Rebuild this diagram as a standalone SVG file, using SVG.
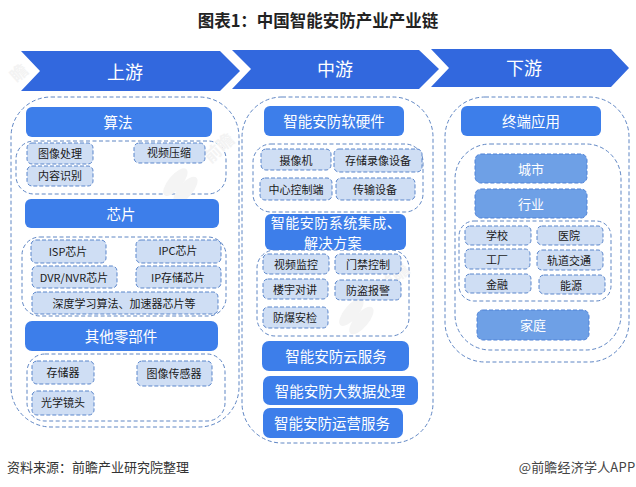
<svg xmlns="http://www.w3.org/2000/svg" width="636" height="487" viewBox="0 0 636 487">
<style>
text{font-family:"Noto Sans CJK SC","Liberation Sans",sans-serif;text-anchor:middle;dominant-baseline:central}
.c{fill:#fff;stroke:#5f86c4;stroke-width:1;stroke-dasharray:4 2.5}
.a{fill:#3268de}
.at{fill:#fff;font-size:18px}
.h rect{fill:#3d7eea}
.h text{fill:#fff;font-size:14.5px}
.s rect{fill:#cfdef4;stroke:#5b86cb;stroke-width:1;stroke-dasharray:4 2}
.s text{fill:#1a1a1a;font-size:11px}
.m rect{fill:#6ea0e6;stroke:#4f82d6;stroke-width:1;stroke-dasharray:4 2}
.m text{fill:#fff;font-size:13px}
.wm{fill:#f4f4f4}
.wt{fill:#f3f3f3;font-size:17px;font-weight:700}
</style>
<rect width="636" height="487" fill="#fff"/>
<text x="318" y="20" font-size="16.5" font-weight="700" fill="#222">图表1：中国智能安防产业产业链</text>
<g id="stage-up"><polygon class="a" points="21,51 220,51 240,71 220,91 21,91 40,71"/><text class="at" x="125" y="71">上游</text></g>
<g id="stage-mid"><polygon class="a" points="232,50 419,50 439,69 419,89 232,89 251,69"/><text class="at" x="335" y="68">中游</text></g>
<g id="stage-down"><polygon class="a" points="431,49 611,49 629,68 611,87 431,87 449,68"/><text class="at" x="524" y="67">下游</text></g>

<g id="containers">
<rect class="c" x="11" y="97" width="228" height="330" rx="40"/>
<rect class="c" x="242" y="97" width="191" height="346" rx="40"/>
<rect class="c" x="445" y="97" width="184" height="265" rx="40"/>
<rect class="c" x="16" y="141" width="210" height="53" rx="18"/>
<rect class="c" x="22" y="237" width="204" height="79" rx="18"/>
<rect class="c" x="27" y="354" width="198" height="67" rx="18"/>
<rect class="c" x="253" y="144" width="170" height="68" rx="18"/>
<rect class="c" x="257" y="250" width="152" height="86" rx="18"/>
<rect class="c" x="455" y="144" width="166" height="206" rx="35"/>
<rect class="c" x="459" y="221" width="152" height="80" rx="15"/>
</g>

<g id="watermarks">
<g transform="rotate(40 180 186)"><ellipse class="wm" cx="174" cy="186" rx="7" ry="17"/><ellipse class="wm" cx="187" cy="186" rx="7" ry="17"/></g>
<g transform="rotate(40 356 316)"><ellipse class="wm" cx="350" cy="316" rx="7" ry="17"/><ellipse class="wm" cx="363" cy="316" rx="7" ry="17"/></g>
<text class="wt" x="218" y="147" transform="rotate(-42 218 147)">前瞻</text>
<text class="wt" x="393" y="277" transform="rotate(-42 393 277)">前瞻</text>
<text class="wt" x="18" y="72" transform="rotate(-42 18 72)">瞻</text>
</g>

<g id="n-suanfa" class="h"><rect x="26" y="107" width="186" height="30" rx="6"/><text x="118" y="121">算法</text></g>
<g id="n-txcl" class="s"><rect x="27" y="143" width="66" height="21" rx="5"/><text x="60" y="153">图像处理</text></g>
<g id="n-spys" class="s"><rect x="134" y="143" width="71" height="20" rx="5"/><text x="169" y="152">视频压缩</text></g>
<g id="n-nrsb" class="s"><rect x="27" y="166" width="66" height="20" rx="5"/><text x="60" y="175">内容识别</text></g>
<g id="n-xinpian" class="h"><rect x="25" y="199" width="194" height="29" rx="6"/><text x="121" y="213">芯片</text></g>
<g id="n-isp" class="s"><rect x="31" y="240" width="75" height="23" rx="5"/><text x="68" y="251">ISP芯片</text></g>
<g id="n-ipc" class="s"><rect x="136" y="240" width="85" height="23" rx="5"/><text x="178" y="250">IPC芯片</text></g>
<g id="n-dvr" class="s"><rect x="32" y="266" width="85" height="22" rx="5"/><text x="74" y="277">DVR/NVR芯片</text></g>
<g id="n-ipcc" class="s"><rect x="136" y="266" width="85" height="22" rx="5"/><text x="178" y="277">IP存储芯片</text></g>
<g id="n-sdxx" class="s"><rect x="32" y="292" width="186" height="22" rx="5"/><text x="124" y="303">深度学习算法、加速器芯片等</text></g>
<g id="n-qita" class="h"><rect x="25" y="321" width="193" height="30" rx="7"/><text x="121" y="335">其他零部件</text></g>
<g id="n-ccq" class="s"><rect x="32" y="361" width="62" height="23" rx="5"/><text x="63" y="372">存储器</text></g>
<g id="n-txcgq" class="s"><rect x="137" y="361" width="75" height="25" rx="5"/><text x="174" y="373">图像传感器</text></g>
<g id="n-gxjt" class="s"><rect x="32" y="391" width="62" height="24" rx="5"/><text x="63" y="402">光学镜头</text></g>

<g id="n-rjyj" class="h"><rect x="264" y="106" width="140" height="30" rx="6"/><text x="334" y="120">智能安防软硬件</text></g>
<g id="n-sxj" class="s"><rect x="261" y="149" width="70" height="21" rx="5"/><text x="296" y="160">摄像机</text></g>
<g id="n-cclx" class="s"><rect x="334" y="149" width="88" height="23" rx="5"/><text x="378" y="160">存储录像设备</text></g>
<g id="n-zxkz" class="s"><rect x="260" y="178" width="72" height="22" rx="5"/><text x="296" y="189">中心控制端</text></g>
<g id="n-csbe" class="s"><rect x="336" y="178" width="79" height="22" rx="5"/><text x="375" y="189">传输设备</text></g>
<g id="n-xtjc" class="h"><rect x="265" y="214" width="141" height="36" rx="6"/><text x="336" y="222" style="font-size:14px;letter-spacing:.5px">智能安防系统集成、</text><text x="333" y="242" style="font-size:14px;letter-spacing:.5px">解决方案</text></g>
<g id="n-spjk" class="s"><rect x="263" y="254" width="66" height="20" rx="5"/><text x="296" y="264">视频监控</text></g>
<g id="n-mjkz" class="s"><rect x="335" y="254" width="66" height="20" rx="5"/><text x="368" y="264">门禁控制</text></g>
<g id="n-lydj" class="s"><rect x="263" y="279" width="65" height="20" rx="5"/><text x="295" y="289">楼宇对讲</text></g>
<g id="n-fdbj" class="s"><rect x="335" y="280" width="66" height="20" rx="5"/><text x="368" y="290">防盗报警</text></g>
<g id="n-fbaj" class="s"><rect x="263" y="307" width="65" height="21" rx="5"/><text x="295" y="317">防爆安检</text></g>
<g id="n-yun" class="h"><rect x="262" y="341" width="147" height="30" rx="7"/><text x="336" y="355">智能安防云服务</text></g>
<g id="n-dsj" class="h"><rect x="263" y="376" width="155" height="29" rx="7"/><text x="340" y="390">智能安防大数据处理</text></g>
<g id="n-yy" class="h"><rect x="263" y="408" width="140" height="30" rx="7"/><text x="332" y="422">智能安防运营服务</text></g>

<g id="n-zdyy" class="h"><rect x="461" y="106" width="140" height="30" rx="6"/><text x="531" y="120">终端应用</text></g>
<g id="n-cs" class="m"><rect x="475" y="154" width="112" height="29" rx="6"/><text x="531" y="168">城市</text></g>
<g id="n-hy" class="m"><rect x="475" y="189" width="112" height="29" rx="6"/><text x="531" y="203">行业</text></g>
<g id="n-xx" class="s"><rect x="465" y="226" width="66" height="19" rx="5"/><text x="497" y="235">学校</text></g>
<g id="n-yuan" class="s"><rect x="537" y="226" width="66" height="19" rx="5"/><text x="569" y="235">医院</text></g>
<g id="n-gc" class="s"><rect x="465" y="249" width="65" height="20" rx="5"/><text x="497" y="259">工厂</text></g>
<g id="n-gdjt" class="s"><rect x="537" y="250" width="66" height="20" rx="5"/><text x="569" y="260">轨道交通</text></g>
<g id="n-jr" class="s"><rect x="465" y="274" width="66" height="19" rx="5"/><text x="497" y="284">金融</text></g>
<g id="n-ny" class="s"><rect x="539" y="275" width="66" height="19" rx="5"/><text x="571" y="285">能源</text></g>
<g id="n-jt" class="m"><rect x="477" y="310" width="112" height="30" rx="6"/><text x="533" y="324">家庭</text></g>

<text x="98" y="466" font-size="13" fill="#333">资料来源：前瞻产业研究院整理</text>
<text x="577" y="466" font-size="13" fill="#444" letter-spacing="0.2">@前瞻经济学人APP</text>
</svg>
